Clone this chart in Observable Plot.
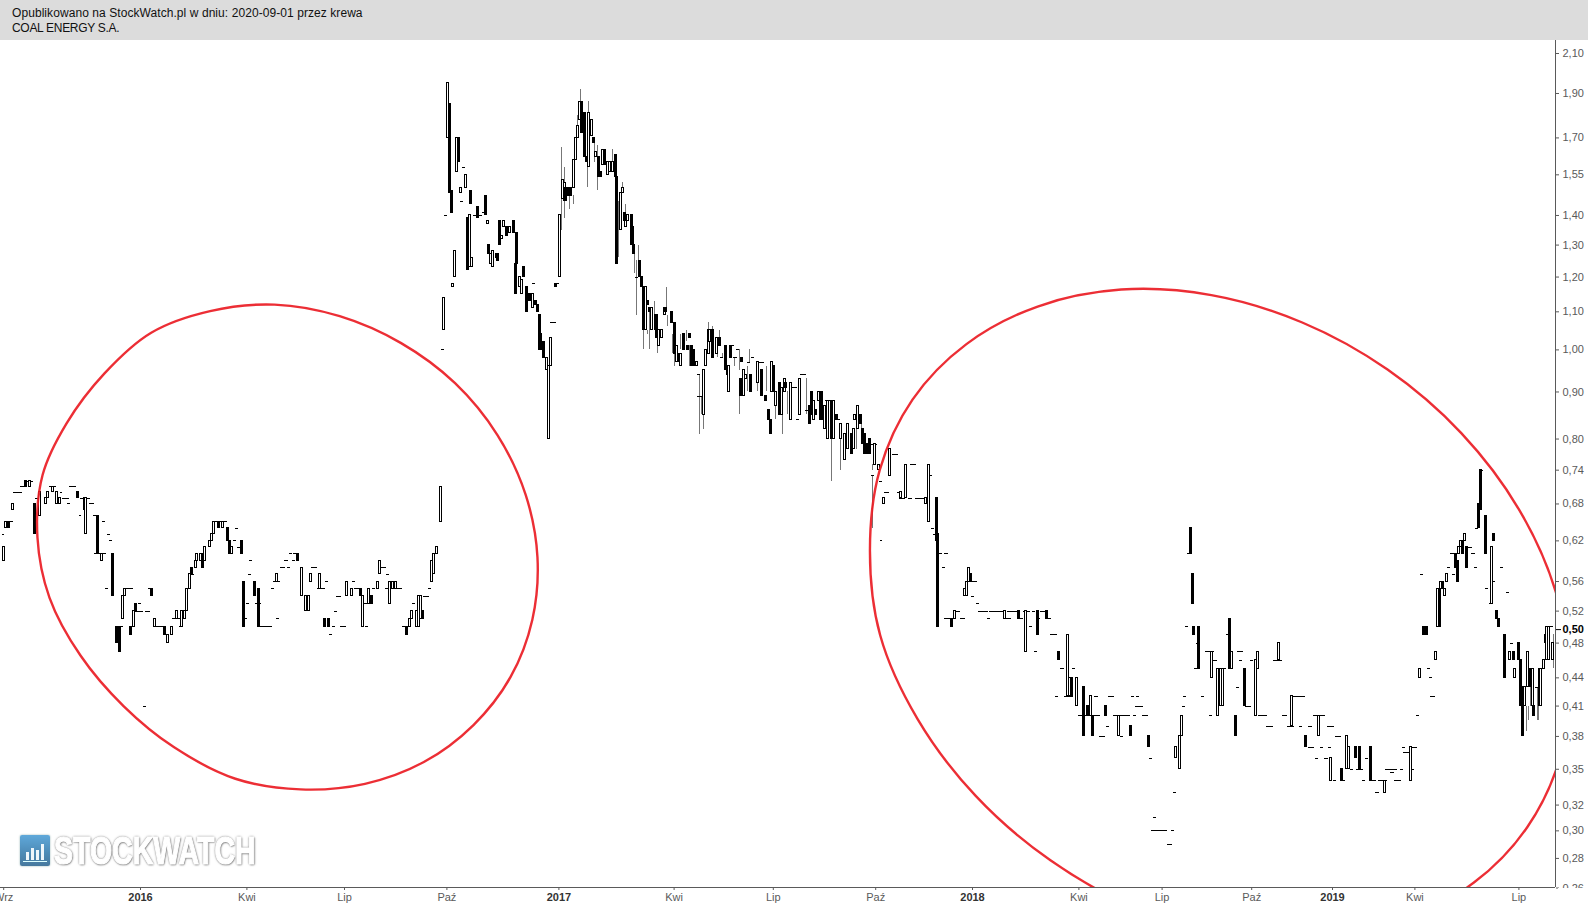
<!DOCTYPE html>
<html lang="pl">
<head>
<meta charset="utf-8">
<title>COAL ENERGY S.A.</title>
<script src="https://cdn.jsdelivr.net/npm/d3@7"></script>
<script src="https://cdn.jsdelivr.net/npm/@observablehq/plot@0.6"></script>
<style>
html,body{margin:0;padding:0;background:#fff;overflow:hidden;}
#wrap{position:relative;width:1588px;height:906px;font-family:"Liberation Sans",Arial,sans-serif;}
#head{height:40px;background:#dcdcdc;color:#111;font-size:12px;line-height:15px;padding:6px 0 0 12px;box-sizing:border-box;}
#head .a{letter-spacing:.07px;}
#head .b{letter-spacing:-.3px;}
#chart svg{display:block;}
#cover{position:absolute;left:1558px;top:888px;width:30px;height:18px;background:#fff;}
#logo{position:absolute;left:20px;top:835px;width:240px;height:34px;pointer-events:none;}
#icon{position:absolute;left:0;top:0;width:30px;height:31px;border-radius:2px;background:linear-gradient(#5fa8da,#4d8ab5 60%,#47799e);box-shadow:0 0 2px #8aa;filter:blur(.4px);}
#icon i{position:absolute;bottom:6px;width:2.5px;background:#eef6fb;}
#icon b{position:absolute;left:3px;right:3px;bottom:4px;height:1.5px;background:#dff;}
#word{position:absolute;left:34px;top:-3px;font:bold 38px/38px "Liberation Sans Narrow","Liberation Sans",sans-serif;color:#fff;white-space:nowrap;transform-origin:0 0;transform:scaleX(.75);-webkit-text-stroke:1.2px #fff;text-shadow:0 0 3px #7a7a7a,1px 1px 2px #7a7a7a,0 0 2px #8a8a8a;filter:blur(.35px);}
</style>
</head>
<body>
<div id="wrap">
<div id="head"><span class="a">Opublikowano na StockWatch.pl w dniu: 2020-09-01 przez krewa</span><br><span class="b">COAL ENERGY S.A.</span></div>
<div id="chart"></div>
<div id="cover"></div>
<div id="logo"><div id="icon"><i style="left:6px;height:8px"></i><i style="left:11px;height:12px"></i><i style="left:16px;height:10px"></i><i style="left:21px;height:16px"></i><b></b></div><div id="word">STOCKWATCH</div></div>
</div>
<script>
// x unit: trading session counted from the chart's left edge. Bars: [session, low, high]
const hollowBars2015 = [[2,.59,.61],[3.5,.64,.65],[7.7,.67,.68],[18.7,.71,.72],[24.4,.66,.70],[28.5,.68,.69],[29.8,.69,.70],[32.7,.70,.71],[35.4,.68,.70],[37,.68,.69],[53.7,.63,.69],[63.3,.59,.60],[76.5,.51,.54],[78,.54,.55],[83.3,.50,.52]];
const hollowBars2016 = [[96.5,.50,.51],[104.6,.48,.49],[107,.49,.50],[110.2,.51,.52],[113.5,.50,.52],[115.2,.51,.52],[116.5,.52,.55],[118.3,.55,.57],[122.3,.58,.59],[123,.59,.60],[125,.59,.60],[128,.59,.61],[130.8,.61,.62],[132,.62,.63],[133.3,.63,.65],[139,.64,.65],[144.8,.60,.61],[172.7,.56,.57],[188.5,.54,.58],[191,.52,.54],[192.7,.52,.54],[194,.56,.57],[199.6,.55,.57],[216.7,.54,.56],[219.4,.54,.55],[226.7,.50,.54],[230.6,.53,.55],[235.8,.55,.56],[236.9,.57,.59],[243.3,.53,.56],[245.4,.55,.56],[247,.55,.56],[256,.50,.51],[257,.51,.52],[260,.50,.52],[261.7,.50,.54],[262.7,.51,.54],[269.6,.56,.59],[270.8,.57,.60],[272.7,.60,.61],[275.4,.65,.71],[277.1,1.05,1.14],[279.6,1.70,1.95],[282.7,1.17,1.18],[284,1.20,1.28],[285.2,1.56,1.70],[290.8,1.50,1.55],[287.7,1.48,1.50],[293.5,1.23,1.40],[294.8,1.23,1.26],[304.6,1.37,1.38],[306.7,1.24,1.27],[307.7,1.23,1.28],[310,1.26,1.27],[313.3,1.32,1.33],[314.8,1.36,1.38],[318.3,1.34,1.36],[324.6,1.17,1.20],[325.8,1.15,1.19],[332.7,1.11,1.15],[341.5,.95,.98],[344,.96,1.03],[342.7,.80,.96]];
const hollowBars2017 = [[349.6,1.20,1.40],[351.3,1.46,1.53],[352.5,1.45,1.52],[358.3,1.50,1.61],[359.6,1.61,1.70],[360.8,1.70,1.75],[362.3,1.78,1.86],[367.7,1.58,1.81],[369.4,1.71,1.78],[372.3,1.62,1.64],[376.7,1.59,1.65],[379.6,1.55,1.60],[381.2,1.56,1.60],[383.1,1.56,1.60],[387.7,1.35,1.48],[389,1.48,1.50],[391.2,1.36,1.38],[392,1.38,1.40],[403.3,1.05,1.17],[407,1.05,1.11],[411.6,1.01,1.05],[413.7,1.03,1.05],[415,1.09,1.11],[422.9,.97,1.01],[425.6,.96,.99],[435.2,.96,.97],[439.6,.85,.95],[441,.96,1.00],[442.5,.99,1.05],[443.5,1.02,1.05],[447.9,.99,1.03],[455.2,.90,.96],[464.6,.89,.95],[466.2,.93,.94],[473.3,.92,.97],[482,.90,.97],[484.8,.87,.90],[488.5,.85,.91],[490.6,.90,.93],[494,.84,.92],[499.6,.85,.93],[508.3,.84,.88],[511.4,.88,.90],[515.2,.82,.87],[517,.80,.88],[520.8,.80,.88],[525.4,.80,.83],[527.7,.76,.81],[529.6,.78,.83],[533.3,.78,.82],[534,.84,.85],[535.8,.82,.87],[546.4,.75,.79],[548.9,.74,.75],[552.1,.68,.69],[555.8,.73,.78],[562.9,.69,.70],[566,.69,.75],[578.3,.68,.69],[580,.65,.75]];
const hollowBars2018 = [[596.7,.51,.52],[602.9,.54,.55],[604,.54,.56],[605.2,.56,.58],[627.9,.51,.52],[641.2,.47,.52],[667,.42,.49],[668.3,.42,.44],[672.5,.41,.44],[681.6,.40,.42],[699.1,.38,.40],[734.8,.36,.37],[737,.35,.38],[738.3,.38,.40],[756.9,.44,.47],[760.8,.40,.45],[762.9,.41,.45],[764.2,.41,.45],[769.8,.45,.47],[784.6,.40,.46],[785.8,.45,.47],[798.9,.46,.48],[807.3,.39,.42],[824,.38,.40]];
const hollowBars2019 = [[831.4,.34,.36],[841.7,.35,.38],[842.7,.35,.37],[865,.33,.34],[881.4,.34,.37],[887.3,.44,.45],[897,.46,.47],[898.5,.50,.55],[900.4,.55,.56],[902.7,.54,.55],[904,.56,.57],[911.4,.60,.61],[912.9,.61,.62],[915.2,.62,.63],[932,.53,.61],[943.5,.46,.47],[946.4,.44,.45],[952.9,.41,.43],[954.8,.43,.47],[957.7,.41,.45],[962,.41,.45],[963.1,.41,.45],[964.6,.45,.46],[965.8,.48,.49],[966.6,.46,.50],[968.1,.46,.50],[970.2,.46,.48]];

const filledBars2015 = [[5.2,.64,.65],[15.8,.71,.72],[21.7,.63,.68],[48.3,.69,.70],[52.5,.67,.69],[60.8,.60,.66],[70.5,.54,.60],[72.5,.48,.50],[74.6,.47,.50],[81.5,.49,.50],[84.6,.52,.53]];
const filledBars2016 = [[94.6,.54,.55],[102.7,.49,.50],[119.8,.57,.58],[126.5,.58,.60],[136.7,.64,.65],[142.3,.62,.64],[143.3,.60,.62],[150.8,.60,.62],[152,.50,.56],[159,.54,.56],[161.5,.50,.55],[185.8,.59,.60],[202.7,.50,.51],[205.2,.50,.51],[225.4,.54,.55],[232,.53,.54],[254,.49,.50],[264,.51,.52],[280.8,1.48,1.85],[282,1.41,1.49],[286.5,1.60,1.70],[292,1.22,1.39],[294,1.44,1.49],[298.5,1.39,1.43],[303.3,1.40,1.47],[305.4,1.27,1.30],[310.8,1.25,1.27],[312.3,1.30,1.38],[316.5,1.33,1.36],[320.8,1.34,1.38],[322.9,1.24,1.34],[322,1.15,1.24],[327.3,1.20,1.23],[329.2,1.10,1.17],[331,1.13,1.15],[334.6,1.12,1.13],[335.8,1.10,1.12],[337,1.00,1.09],[338,1.00,1.04],[339.6,.98,1.02],[347.3,1.17,1.18]];
const filledBars2017 = [[353.7,1.45,1.50],[355.2,1.47,1.50],[356.7,1.47,1.50],[363.7,1.72,1.86],[365.2,1.62,1.81],[366.7,1.60,1.62],[370.8,1.68,1.70],[374.2,1.54,1.62],[375.2,1.54,1.56],[377.5,1.59,1.65],[384.6,1.54,1.63],[385.2,1.24,1.54],[390.4,1.38,1.41],[394.4,1.30,1.40],[395.4,1.30,1.36],[396.2,1.27,1.30],[399.6,1.20,1.25],[400.8,1.17,1.20],[402,1.05,1.17],[404.6,1.12,1.13],[406.2,1.10,1.11],[409.4,1.05,1.09],[410.4,1.03,1.09],[415.8,1.10,1.11],[419.4,1.07,1.10],[421.5,.99,1.07],[424,.97,.99],[427.3,1.00,1.04],[429.6,1.00,1.01],[430.8,1.03,1.04],[431.9,.96,1.01],[433.7,.96,1.00],[445.4,.98,1.05],[449.6,1.01,1.03],[453.5,.95,1.01],[454.6,.94,.95],[456.7,.98,1.01],[463.3,.97,.98],[462.5,.89,.93],[469,.90,.94],[475.8,.89,.95],[478.7,.88,.89],[480.2,.84,.86],[481.4,.81,.84],[483.3,.90,.96],[487,.85,.92],[491.2,.91,.92],[507.3,.85,.90],[505.8,.83,.87],[509.8,.85,.86],[513.5,.84,.90],[512.5,.84,.88],[519.4,.80,.88],[522.5,.84,.85],[532.3,.77,.81],[537.9,.83,.85],[539.1,.79,.82],[540.6,.77,.81],[543.3,.77,.80],[542,.77,.79],[585.2,.62,.69],[586,.50,.63]];
const filledBars2018 = [[594.4,.50,.51],[606.7,.56,.57],[636.6,.51,.52],[648.3,.49,.52],[654.2,.51,.52],[661.4,.46,.47],[669.8,.42,.44],[677.1,.38,.43],[679.6,.40,.41],[682.7,.38,.40],[691,.40,.41],[706.4,.38,.39],[717.7,.37,.38],[743.9,.60,.64],[745.2,.53,.57],[745.8,.49,.50],[749.3,.45,.50],[768.5,.45,.51],[772,.38,.40],[777.9,.41,.45],[816,.37,.38]];
const filledBars2019 = [[838.5,.34,.35],[846.9,.36,.37],[849.8,.35,.37],[856.4,.34,.37],[889.4,.49,.50],[891.4,.49,.50],[899.6,.50,.55],[901.4,.55,.56],[909.6,.58,.60],[910.8,.56,.59],[914.1,.60,.62],[916.4,.58,.61],[923.9,.64,.68],[925.4,.67,.74],[928.3,.60,.66],[933.3,.62,.63],[935.2,.51,.52],[936.4,.50,.51],[940.4,.44,.49],[946,.46,.47],[949.1,.46,.48],[950,.41,.46],[951.6,.38,.43],[956.8,.43,.45],[958.7,.40,.41]];

// Thin grey shadows: [session, low, high]
const wicks2017 = [[350.6,1.35,1.40],[350.8,1.39,1.66],[352.7,1.39,1.58],[355.6,1.42,1.50],[358.3,1.44,1.47],[360.8,1.75,1.80],[362.3,1.86,1.92],[366.7,1.50,1.60],[367.7,1.81,1.86],[371,1.60,1.68],[372.9,1.49,1.67],[382.3,1.60,1.65],[389,1.50,1.52],[386.4,1.26,1.45],[390.6,1.41,1.44],[396.2,1.21,1.27],[398.7,1.25,1.30],[397.5,1.09,1.25],[402,1.00,1.05],[404.6,1.04,1.05],[405.8,1.00,1.10],[409,1.09,1.13],[410.4,.99,1.03],[416,1.11,1.17],[416.9,1.06,1.09],[419.8,.99,1.04],[421.5,.96,.99],[425,1.00,1.04],[428.5,1.02,1.05],[430.6,.96,1.01],[437.1,.81,.94],[439.6,.82,.85],[438.1,.85,.89],[442.3,1.05,1.07],[445.2,1.05,1.06],[447.9,.98,.99],[449.6,1.03,1.05],[451,.98,.99],[458.9,.96,.98],[462.1,.95,1.00],[462,.85,.89],[466.7,.90,.96],[467.9,.97,1.00],[472.9,.90,.92],[479,.90,.96],[484.6,.84,.87],[488.5,.81,.85],[491.7,.85,.90],[503.9,.85,.93],[519.6,.72,.80],[525.2,.74,.80],[535,.78,.85],[537.9,.79,.83],[544.8,.74,.75],[545.2,.64,.73]];
const wicks2019 = [[949.3,.43,.46],[953.7,.385,.41],[955.2,.395,.41],[956.2,.41,.43],[960.4,.395,.43],[961.4,.395,.41],[970.8,.45,.49]];

// Sessions without a range: [first session, last session, price]
const flats2015 = [[1,2.5,.63],[6.2,8,.65],[8.3,13.5,.70],[12.5,15,.71],[15,20.8,.72],[22,24.4,.69],[30.8,34.8,.71],[38.5,43,.69],[37.5,39,.70],[41.9,43.5,.68],[43,47.5,.71],[50,56,.69],[49.2,50.6,.66],[55.6,58.8,.68],[58.3,61.9,.66],[58.8,66,.60],[63.8,65.6,.65],[66.9,68.8,.63],[67.9,70,.62],[65.8,67.7,.55],[77,82.9,.55],[72.5,76.7,.50],[86.3,87.9,.53],[84.4,89.6,.52],[89.6,91.3,.41]];
const flats2016 = [[90.6,93.8,.52],[92.3,93.8,.55],[95.4,102,.50],[107.5,112.5,.51],[111.9,114.6,.50],[118.8,121.5,.57],[133.3,141.7,.65],[147,148.8,.64],[145.8,147.5,.62],[148.3,151.7,.61],[155.6,157.3,.59],[155,156.7,.57],[153.8,155.4,.53],[152.7,154.2,.51],[159.6,162.9,.53],[161.5,169.8,.50],[172.5,174.2,.51],[169.4,171.3,.55],[170.8,175.2,.56],[175,178.1,.58],[179.6,181.3,.58],[177.5,180,.59],[180.8,182.5,.60],[183.3,186.9,.60],[182.3,184.4,.59],[194.4,197.9,.58],[197.9,203.1,.55],[203.3,205,.56],[207.3,209.4,.50],[208.8,210.4,.52],[210,213.1,.54],[212.5,216,.50],[205.8,207.5,.49],[220,221.9,.56],[221.3,226,.55],[228.1,229.8,.50],[227,229.2,.53],[232.3,234.4,.55],[237.5,241,.58],[241.3,242.9,.57],[240.6,242.7,.55],[245.4,251,.55],[251,255.2,.50],[257.7,259.4,.53],[264.6,268.1,.54],[267.7,269.4,.55],[275.6,277.5,1.00],[277.3,279.2,1.40],[288.5,290.6,1.58],[287.5,289.4,1.45],[295.8,301,1.40],[301,303.1,1.41],[332.3,334.4,1.18],[343.7,347.5,1.07],[347.5,349.4,1.18]];
const flats2017 = [[396.9,399,1.20],[435.5,437.5,.94],[435.8,438.5,.89],[450,452,.98],[455.8,458.7,1.01],[458.3,460.4,.98],[459.8,461.9,1.00],[466.7,468.8,.97],[469.4,471.5,.98],[472.5,477.5,.97],[494.8,497.9,.91],[497.5,499.4,.84],[500,503.8,.94],[503.1,505.2,.86],[515.6,519.8,.88],[522.9,525,.84],[544.1,547.9,.79],[544.1,546.2,.73],[549.1,551.2,.72],[552.5,555.8,.70],[549.8,551.5,.62],[557.3,561,.77],[560.8,563.5,.70],[561.9,565.6,.69],[568.7,572.5,.75],[567.7,569.8,.69],[571.9,579.2,.69],[580.2,582.3,.73],[581.9,583.7,.64],[583.1,585.4,.63],[586.9,589,.60],[590.2,592.3,.60],[588.7,590.6,.58],[590,594.8,.51],[595.8,600,.52],[600,603.1,.51]];
const flats2018 = [[605.2,610.4,.56],[607.1,608.7,.54],[610,611.7,.53],[611.5,617.7,.52],[616.9,618.5,.51],[618.3,627.1,.52],[627.1,631.7,.51],[629.2,636.4,.52],[635.4,639.6,.51],[639.6,643.7,.52],[643.1,645.2,.50],[645,646.7,.52],[646.2,648.3,.47],[648.5,650.2,.51],[650,654.2,.52],[653.5,656.9,.51],[656.2,660.4,.49],[662.5,665,.45],[669.8,671.9,.45],[659.4,661.4,.42],[665,670.8,.42],[674,681.2,.40],[684,686,.42],[683.3,687.5,.40],[692.7,696.2,.42],[691.2,693.1,.39],[686.9,690.6,.38],[695.8,702,.40],[701,706.2,.40],[700,702,.38],[707.9,709.8,.40],[713.5,717.7,.40],[706.8,708.9,.42],[709.8,711.8,.42],[709.4,714.6,.41],[718.1,720,.36],[739.1,741.2,.42],[738.5,740.6,.41],[732.9,735,.33],[720.4,722.5,.31],[719.4,729.6,.30],[731.6,733.7,.30],[729.6,732.5,.29],[742,744.8,.60],[740.6,742.7,.50],[747.7,749.5,.48],[746.2,748.3,.45],[753.1,759,.47],[758.3,760.4,.46],[750.4,752.5,.42],[755.6,757.7,.40],[760.4,766.3,.45],[766,768.1,.49],[772.9,777.1,.47],[774.4,776.5,.46],[772.5,774.6,.43],[778.1,781.9,.41],[781.3,783.3,.46],[786.5,792.1,.40],[791.2,795.8,.39],[795.4,801,.46],[801,804.2,.40],[804.2,808.7,.39],[808.3,815.6,.42],[811.9,814,.39],[817.7,819.8,.39],[817.3,821.2,.37],[820.8,828.1,.40],[829.6,833.7,.39],[825,826.9,.37]];
const flats2019 = [[829.8,831.9,.37],[821.9,824,.36],[827.7,829.8,.36],[832.9,835,.34],[834.4,838.1,.38],[837.5,840.6,.34],[843.7,845.8,.35],[847.5,851.7,.35],[853.1,855.2,.36],[851,853.1,.34],[855.8,860,.34],[861.4,866.7,.34],[859.4,861.9,.33],[865.6,870.8,.35],[868.7,871.2,.347],[870.8,872.9,.35],[871.2,875.6,.34],[875,877,.35],[877,881.2,.365],[876,878.1,.37],[882.3,885.4,.37],[882,883.7,.35],[885,887.1,.40],[893.7,896.9,.42],[892.9,895,.44],[891.9,893.7,.45],[887.5,889.2,.57],[904.1,906.2,.58],[907.3,909.4,.57],[906.2,910.4,.60],[915.6,919.8,.61],[919.3,921.9,.60],[921.2,923.1,.58],[921.9,923.5,.64],[925,927,.74],[928.1,930.2,.55],[932.3,934.4,.56],[930.8,932.7,.53],[937.3,939.6,.58],[941,943.1,.545],[943.7,945.8,.48],[959.3,962.5,.43],[968.7,970.8,.50]];

// Hand-drawn red annotations: [session, price]
const leftCircle = [[335.6,.595],[332.4,.509],[318.8,.441],[295.6,.391],[264.6,.3564],[227.8,.3375],[187.5,.3328],[146.8,.3418],[108.3,.37],[76.9,.41],[50,.4653],[30.6,.538],[23.1,.6253],[26.3,.731],[41.3,.832],[65,.943],[94.2,1.044],[131,1.102],[171.3,1.12],[212,1.088],[250.4,1.017],[284.1,.92],[310.6,.808],[328.2,.696]];
const rightCircle = [[981,.4415],[974.9,.3613],[954.3,.3029],[920.7,.2634],[876,.2398],[824,.23],[767.5,.2331],[710,.2473],[656.2,.2787],[609.5,.3274],[573.2,.3968],[549.8,.4895],[543.4,.6053],[549.5,.74],[570,.883],[603.7,1.0146],[648.2,1.1147],[700.4,1.163],[756.8,1.147],[813.6,1.071],[866.9,.952],[913,.812],[949,.671],[972,.546]];

// Axis ticks
const monthTickSessions = [2,154,215,279,421,483,547,674,726,782,884,949];
const monthTickLabels = ["Wrz","Kwi","Lip","Paź","Kwi","Lip","Paź","Kwi","Lip","Paź","Kwi","Lip"];
const yearTickSessions = [87.5,349,607.5,832.5];
const yearTickLabels = ["2016","2017","2018","2019"];
const priceTicks = [2.10,1.90,1.70,1.55,1.40,1.30,1.20,1.10,1.00,.90,.80,.74,.68,.62,.56,.52,.48,.44,.41,.38,.35,.32,.30,.28,.26];
const lastPrice = [.4965];

const up = [...hollowBars2015,...hollowBars2016,...hollowBars2017,...hollowBars2018,...hollowBars2019].map(([s,low,high])=>({s,low,high,fill:"white"}));
const down = [...filledBars2015,...filledBars2016,...filledBars2017,...filledBars2018,...filledBars2019].map(([s,low,high])=>({s,low,high,fill:"black"}));
const bars = [...up,...down].sort((a,b)=>a.s-b.s);
const wicks = [...wicks2017,...wicks2019];
const flats = [...flats2015,...flats2016,...flats2017,...flats2018,...flats2019];
const halfBar = 0.625;
const comma = d => d.toFixed(2).replace(".",",");
const AXIS = "#5a5a5a";

const plot = Plot.plot({
  width:1588, height:866,
  marginTop:0, marginBottom:19, marginLeft:0, marginRight:33,
  style:{background:"#fff",fontFamily:'"Liberation Sans",Arial,sans-serif',fontSize:"11px",overflow:"hidden"},
  x:{type:"linear",domain:[0,971.875],range:[0,1555]},
  y:{type:"log",domain:[0.26034,2.1695],range:[847,0]},
  marks:[
    Plot.ruleX(wicks,{x:d=>d[0],y1:d=>d[1],y2:d=>d[2],stroke:"#777",strokeWidth:1,shapeRendering:"crispEdges"}),
    Plot.ruleY(flats,{x1:d=>d[0],x2:d=>d[1],y:d=>d[2],stroke:"#000",strokeWidth:1,shapeRendering:"crispEdges"}),
    Plot.rect(bars,{x1:d=>d.s-halfBar,x2:d=>d.s+halfBar,y1:"low",y2:"high",fill:"fill",stroke:"#000",strokeWidth:1,shapeRendering:"crispEdges"}),
    Plot.line(leftCircle,{x:d=>d[0],y:d=>d[1],curve:"catmull-rom-closed",stroke:"#ea1c24",strokeWidth:2.4,strokeOpacity:.92}),
    Plot.line(rightCircle,{x:d=>d[0],y:d=>d[1],curve:"catmull-rom-closed",stroke:"#ea1c24",strokeWidth:2.4,strokeOpacity:.92,clip:"frame"}),
    Plot.axisY({anchor:"right",ticks:priceTicks,tickFormat:comma,tickSize:3,tickPadding:4,label:null,stroke:AXIS,fill:AXIS,fontSize:11}),
    Plot.axisY({anchor:"right",ticks:lastPrice,tickFormat:comma,tickSize:5,tickPadding:2,label:null,stroke:"#000",fill:"#000",fontWeight:"bold",fontSize:11}),
    Plot.axisX({anchor:"bottom",ticks:monthTickSessions,tickFormat:(d,i)=>monthTickLabels[i],tickSize:3,tickPadding:3,label:null,stroke:AXIS,fill:AXIS,fontSize:11}),
    Plot.axisX({anchor:"bottom",ticks:yearTickSessions,tickFormat:(d,i)=>yearTickLabels[i],tickSize:3,tickPadding:3,label:null,stroke:AXIS,fill:"#333",fontWeight:"bold",fontSize:11}),
    Plot.ruleX([971.875],{stroke:AXIS,strokeWidth:1.2,shapeRendering:"crispEdges"}),
    Plot.ruleY([0.26034],{stroke:AXIS,strokeWidth:1.2,shapeRendering:"crispEdges"})
  ]
});
document.getElementById("chart").appendChild(plot);
</script>
</body>
</html>
